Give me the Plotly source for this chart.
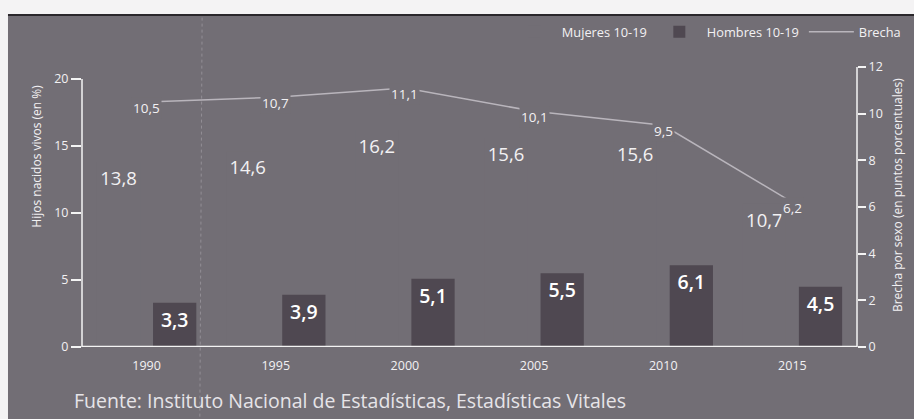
import plotly.graph_objects as go

years = ["1990", "1995", "2000", "2005", "2010", "2015"]
mujeres = [13.8, 14.6, 16.2, 15.6, 15.6, 10.7]
hombres = [3.3, 3.9, 5.1, 5.5, 6.1, 4.5]
brecha = [10.5, 10.7, 11.1, 10.1, 9.5, 6.2]

left_ticks = [0, 5, 10, 15, 20]
right_ticks = [0, 2, 4, 6, 8, 10, 12]

BG = "#726e75"
BAR_H = "#4f4851"
TXT = "#f2f1f3"
FONT = "Open Sans"


def fmt(v):
    return f"{v:.1f}".replace(".", ",")


fig = go.Figure()
fig.add_trace(go.Bar(
    x=years, y=mujeres, name="Mujeres 10-19",
    marker=dict(color=BG, line=dict(width=0)),
    text=[fmt(v) for v in mujeres], textposition="inside", insidetextanchor="end",
    textangle=0, constraintext="none",
    textfont=dict(family=FONT, size=18.5, color=TXT, weight=500), yaxis="y",
))
fig.add_trace(go.Bar(
    x=years, y=hombres, name="Hombres 10-19",
    marker=dict(color=BAR_H, line=dict(width=0)),
    text=[fmt(v) for v in hombres], textposition="inside", insidetextanchor="end",
    textangle=0, constraintext="none",
    textfont=dict(family=FONT, size=19.5, color="#ffffff", weight=600), yaxis="y",
))
fig.add_trace(go.Scatter(
    x=years, y=brecha, name="Brecha", mode="lines",
    line=dict(color="#b9b5bc", width=1.5), yaxis="y2",
))

annotations = []
for i, v in enumerate(brecha):
    annotations.append(dict(
        x=i, y=v, xref="x", yref="y2", text=fmt(v), showarrow=False,
        yshift=-6, font=dict(family=FONT, size=13.5, color=TXT),
        bgcolor=BG, borderpad=1,
    ))

annotations += [
    dict(x=-0.058, y=0.68, xref="paper", yref="paper", xanchor="center", yanchor="middle",
         text="Hijos nacidos vivos (en %)",
         textangle=-90, showarrow=False, font=dict(family=FONT, size=12, color=TXT)),
    dict(x=1.053, y=0.543, xref="paper", yref="paper", xanchor="center", yanchor="middle",
         text="Brecha por sexo (en puntos porcentuales)",
         textangle=-90, showarrow=False, font=dict(family=FONT, size=12, color=TXT)),
    dict(x=-0.013, y=-0.19, xref="paper", yref="paper", xanchor="left", yanchor="middle",
         text="Fuente: Instituto Nacional de Estadísticas, Estadísticas Vitales",
         showarrow=False, font=dict(family=FONT, size=19.5, color="#e6e4e8")),
]

shapes = [
    # panel background
    dict(type="rect", xref="paper", yref="paper", x0=-0.0955, x1=1.08, y0=-0.27, y1=1.186,
         fillcolor=BG, line=dict(width=0), layer="below"),
    dict(type="line", xref="paper", yref="paper", x0=-0.0955, x1=1.08, y0=1.186, y1=1.186,
         line=dict(color="#2a272b", width=2)),
    # crease
    dict(type="line", xref="paper", yref="paper", x0=0.152, x1=0.155, y0=-0.27, y1=1.18,
         line=dict(color="#a9a5ac", width=1, dash="dot"), opacity=0.6),
    # axis lines
    dict(type="line", xref="paper", yref="y", x0=0, x1=0, y0=0, y1=20,
         line=dict(color="#f4f4f4", width=1.5)),
    dict(type="line", xref="paper", yref="y2", x0=1, x1=1, y0=0, y1=12,
         line=dict(color="#f4f4f4", width=1.5)),
    dict(type="line", xref="paper", yref="y", x0=0, x1=1, y0=0, y1=0,
         line=dict(color="#f4f4f4", width=2.5)),
]

fig.update_layout(
    width=914, height=419,
    margin=dict(l=82, r=57, t=67, b=72, autoexpand=False),
    paper_bgcolor="#f4f3f4", plot_bgcolor="rgba(0,0,0,0)",
    font=dict(family=FONT, color=TXT),
    barmode="group", bargap=0.13, bargroupgap=0.23,
    separators=",.",
    showlegend=True,
    legend=dict(orientation="h", x=1.063, xanchor="right", y=1.125, yanchor="middle",
                font=dict(family=FONT, size=12.8, color=TXT), bgcolor="rgba(0,0,0,0)",
                itemwidth=45, traceorder="normal"),
    xaxis=dict(type="category", showgrid=False, showline=False, zeroline=False, ticks="",
               tickfont=dict(family=FONT, size=12.5, color=TXT), ticklabelstandoff=9),
    yaxis=dict(range=[0, 20.9], tickvals=left_ticks, showgrid=False, zeroline=False,
               showline=False, ticks="outside", ticklen=10, tickcolor="#f4f4f4", tickwidth=1.5,
               tickfont=dict(family=FONT, size=12.5, color=TXT)),
    yaxis2=dict(range=[0, 12], tickvals=right_ticks, overlaying="y", side="right",
                showgrid=False, zeroline=False, showline=False, ticks="outside", ticklen=8,
                tickcolor="#f4f4f4", tickwidth=1.5,
                tickfont=dict(family=FONT, size=12.5, color=TXT)),
    annotations=annotations, shapes=shapes,
)

fig.write_html("out.html")
